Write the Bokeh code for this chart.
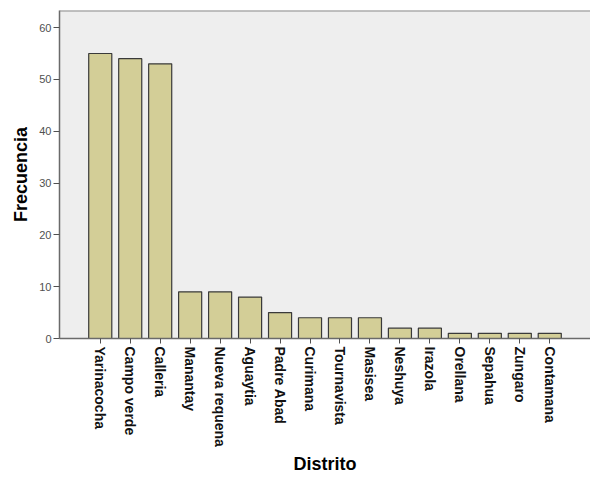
import math
from bokeh.plotting import figure
from bokeh.models import FactorRange, Range1d, Span, FixedTicker
from bokeh.embed import file_html
from bokeh.resources import INLINE

# Data
distritos = ["Yarinacocha", "Campo verde", "Calleria", "Manantay", "Nueva requena",
             "Aguaytia", "Padre Abad", "Curimana", "Tournavista", "Masisea",
             "Neshuya", "Irazola", "Orellana", "Sepahua", "Zungaro", "Contamana"]
frecuencia = [55, 54, 53, 9, 9, 8, 5, 4, 4, 4, 2, 2, 1, 1, 1, 1]
y_ticks = [0, 10, 20, 30, 40, 50, 60]
y_max = 63.3

FONT = "Liberation Sans"

p = figure(
    width=590, height=477,
    x_range=FactorRange(*distritos, range_padding=0.86, range_padding_units="absolute"),
    y_range=Range1d(0, y_max),
    output_backend="svg", toolbar_location=None,
    min_border_left=59, min_border_right=0, min_border_top=10, min_border_bottom=139,
)
p.background_fill_color = "#eeeeee"
p.border_fill_color = "white"
p.outline_line_color = None
p.xgrid.visible = False
p.ygrid.visible = False

p.vbar(x=distritos, top=frecuencia, width=0.77, bottom=0,
       fill_color="#d3ce97", line_color="#3a3a3a", line_width=1.2)

# top border of the plot area
p.add_layout(Span(location=y_max, dimension="width", line_color="#8a8a8a", line_width=2))

# y axis
p.yaxis.ticker = FixedTicker(ticks=y_ticks)
p.yaxis.axis_label = "Frecuencia"
p.yaxis.axis_label_text_font = FONT
p.yaxis.axis_label_text_font_style = "bold"
p.yaxis.axis_label_text_font_size = "18px"
p.yaxis.axis_label_text_color = "black"
p.yaxis.axis_label_standoff = 5
p.yaxis.major_label_text_font = FONT
p.yaxis.major_label_text_font_size = "11px"
p.yaxis.major_label_text_color = "#505050"
p.yaxis.major_label_standoff = 2
p.yaxis.major_tick_in = 0
p.yaxis.major_tick_out = 6
p.yaxis.minor_tick_line_color = None
p.yaxis.axis_line_color = "#6a6a6a"
p.yaxis.axis_line_width = 1.5
p.yaxis.major_tick_line_color = "#505050"

# x axis
p.xaxis.axis_label = "Distrito"
p.xaxis.axis_label_text_font = FONT
p.xaxis.axis_label_text_font_style = "bold"
p.xaxis.axis_label_text_font_size = "18px"
p.xaxis.axis_label_text_color = "black"
p.xaxis.axis_label_standoff = 4
p.xaxis.major_label_orientation = -math.pi / 2
p.xaxis.major_label_text_font = FONT
p.xaxis.major_label_text_font_style = "bold"
p.xaxis.major_label_text_font_size = "14px"
p.xaxis.major_label_text_color = "#111111"
p.xaxis.major_label_standoff = 3
p.xaxis.major_tick_in = 0
p.xaxis.major_tick_out = 5
p.xaxis.axis_line_color = "#6a6a6a"
p.xaxis.axis_line_width = 1.5
p.xaxis.major_tick_line_color = "#505050"

open("out.html", "w").write(file_html(p, INLINE))
